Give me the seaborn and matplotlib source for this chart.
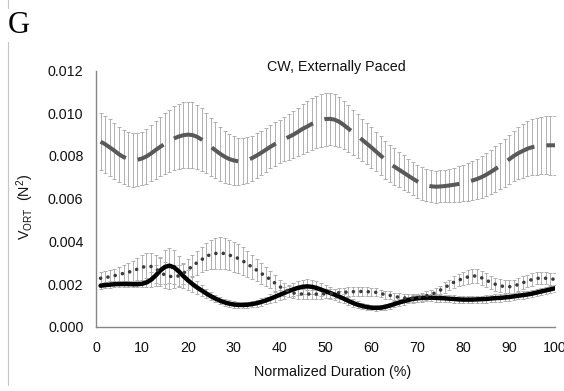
import matplotlib
matplotlib.use("Agg")
import matplotlib.pyplot as plt
from matplotlib.lines import Line2D
import numpy as np
import pandas as pd
import seaborn as sns

# Normalized duration (% of movement), one sample per percent
duration = list(range(1, 101))

# Long-dash series: mean and SD of V_ORT (N^2)
dash_mean = [
    0.00867, 0.00855, 0.00840, 0.00825, 0.00808, 0.00795, 0.00786, 0.00781, 0.00782, 0.00788,
    0.00798, 0.00812, 0.00828, 0.00843, 0.00857, 0.00870, 0.00882, 0.00891, 0.00897, 0.00900,
    0.00898, 0.00890, 0.00877, 0.00860, 0.00843, 0.00827, 0.00811, 0.00797, 0.00786, 0.00779,
    0.00775, 0.00776, 0.00781, 0.00790, 0.00802, 0.00815, 0.00829, 0.00843, 0.00856, 0.00868,
    0.00879, 0.00889, 0.00900, 0.00913, 0.00927, 0.00938, 0.00950, 0.00960, 0.00968, 0.00973,
    0.00974, 0.00970, 0.00960, 0.00945, 0.00928, 0.00911, 0.00894, 0.00876, 0.00858, 0.00840,
    0.00821, 0.00802, 0.00783, 0.00765, 0.00750, 0.00736, 0.00722, 0.00708, 0.00694, 0.00681,
    0.00670, 0.00662, 0.00658, 0.00656, 0.00657, 0.00659, 0.00662, 0.00665, 0.00669, 0.00674,
    0.00679, 0.00685, 0.00692, 0.00701, 0.00712, 0.00725, 0.00739, 0.00753, 0.00768, 0.00784,
    0.00800, 0.00813, 0.00824, 0.00834, 0.00841, 0.00846, 0.00849, 0.00850, 0.00850, 0.00850,
]
dash_sd = [
    0.00135, 0.00134, 0.00133, 0.00131, 0.00129, 0.00127, 0.00125, 0.00125, 0.00125, 0.00126,
    0.00128, 0.00131, 0.00135, 0.00139, 0.00143, 0.00147, 0.00150, 0.00153, 0.00155, 0.00155,
    0.00154, 0.00151, 0.00147, 0.00142, 0.00137, 0.00132, 0.00127, 0.00122, 0.00117, 0.00113,
    0.00110, 0.00108, 0.00106, 0.00105, 0.00104, 0.00103, 0.00102, 0.00101, 0.00101, 0.00102,
    0.00104, 0.00107, 0.00110, 0.00113, 0.00116, 0.00119, 0.00121, 0.00123, 0.00124, 0.00124,
    0.00123, 0.00121, 0.00118, 0.00114, 0.00110, 0.00106, 0.00102, 0.00099, 0.00097, 0.00095,
    0.00093, 0.00091, 0.00089, 0.00087, 0.00085, 0.00083, 0.00081, 0.00079, 0.00078, 0.00077,
    0.00076, 0.00075, 0.00075, 0.00075, 0.00075, 0.00076, 0.00078, 0.00080, 0.00083, 0.00086,
    0.00089, 0.00092, 0.00095, 0.00098, 0.00101, 0.00104, 0.00107, 0.00110, 0.00113, 0.00116,
    0.00119, 0.00122, 0.00125, 0.00128, 0.00131, 0.00133, 0.00135, 0.00136, 0.00137, 0.00137,
]

# Solid series
solid_mean = [
    0.00192, 0.00195, 0.00197, 0.00199, 0.00200, 0.00200, 0.00200, 0.00199, 0.00199, 0.00201,
    0.00207, 0.00220, 0.00240, 0.00263, 0.00280, 0.00286, 0.00278, 0.00260, 0.00238, 0.00218,
    0.00200, 0.00184, 0.00170, 0.00156, 0.00143, 0.00132, 0.00122, 0.00114, 0.00108, 0.00104,
    0.00102, 0.00102, 0.00103, 0.00106, 0.00110, 0.00116, 0.00123, 0.00131, 0.00140, 0.00149,
    0.00158, 0.00167, 0.00175, 0.00182, 0.00187, 0.00189, 0.00187, 0.00182, 0.00174, 0.00166,
    0.00158, 0.00150, 0.00141, 0.00131, 0.00121, 0.00111, 0.00103, 0.00097, 0.00092, 0.00089,
    0.00088, 0.00089, 0.00093, 0.00099, 0.00106, 0.00113, 0.00119, 0.00125, 0.00130, 0.00133,
    0.00135, 0.00136, 0.00136, 0.00135, 0.00134, 0.00133, 0.00131, 0.00130, 0.00128, 0.00127,
    0.00127, 0.00127, 0.00128, 0.00129, 0.00130, 0.00132, 0.00134, 0.00135, 0.00137, 0.00139,
    0.00142, 0.00145, 0.00148, 0.00151, 0.00155, 0.00160, 0.00165, 0.00170, 0.00175, 0.00180,
]
solid_sd = [
    0.00015, 0.00015, 0.00015, 0.00015, 0.00015, 0.00015, 0.00015, 0.00015, 0.00015, 0.00016,
    0.00020, 0.00035, 0.00050, 0.00065, 0.00078, 0.00083, 0.00080, 0.00070, 0.00058, 0.00047,
    0.00038, 0.00030, 0.00025, 0.00020, 0.00018, 0.00016, 0.00015, 0.00015, 0.00015, 0.00015,
    0.00015, 0.00015, 0.00015, 0.00015, 0.00016, 0.00017, 0.00018, 0.00020, 0.00022, 0.00024,
    0.00026, 0.00028, 0.00030, 0.00032, 0.00033, 0.00034, 0.00034, 0.00033, 0.00032, 0.00030,
    0.00028, 0.00026, 0.00024, 0.00022, 0.00020, 0.00018, 0.00016, 0.00015, 0.00014, 0.00013,
    0.00013, 0.00013, 0.00014, 0.00014, 0.00015, 0.00015, 0.00016, 0.00016, 0.00017, 0.00017,
    0.00017, 0.00017, 0.00017, 0.00017, 0.00017, 0.00017, 0.00017, 0.00017, 0.00017, 0.00017,
    0.00017, 0.00017, 0.00017, 0.00017, 0.00017, 0.00017, 0.00017, 0.00017, 0.00017, 0.00017,
    0.00017, 0.00017, 0.00017, 0.00017, 0.00017, 0.00017, 0.00017, 0.00017, 0.00017, 0.00017,
]

# Round-dot series
dot_mean = [
    0.00227, 0.00230, 0.00234, 0.00239, 0.00244, 0.00250, 0.00255, 0.00261, 0.00270, 0.00278,
    0.00283, 0.00282, 0.00272, 0.00256, 0.00242, 0.00236, 0.00234, 0.00238, 0.00250, 0.00266,
    0.00284, 0.00300, 0.00314, 0.00329, 0.00339, 0.00343, 0.00345, 0.00343, 0.00336, 0.00328,
    0.00320, 0.00308, 0.00294, 0.00279, 0.00265, 0.00250, 0.00236, 0.00221, 0.00204, 0.00188,
    0.00176, 0.00166, 0.00158, 0.00154, 0.00153, 0.00153, 0.00153, 0.00153, 0.00153, 0.00154,
    0.00155, 0.00157, 0.00159, 0.00161, 0.00163, 0.00164, 0.00165, 0.00165, 0.00164, 0.00163,
    0.00161, 0.00156, 0.00150, 0.00147, 0.00142, 0.00138, 0.00135, 0.00134, 0.00134, 0.00136,
    0.00140, 0.00145, 0.00151, 0.00160, 0.00171, 0.00184, 0.00196, 0.00209, 0.00218, 0.00226,
    0.00233, 0.00238, 0.00237, 0.00229, 0.00219, 0.00207, 0.00199, 0.00192, 0.00188, 0.00187,
    0.00190, 0.00198, 0.00206, 0.00214, 0.00221, 0.00226, 0.00228, 0.00227, 0.00224, 0.00222,
]
dot_sd = [
    0.00028, 0.00029, 0.00030, 0.00032, 0.00035, 0.00038, 0.00042, 0.00047, 0.00052, 0.00057,
    0.00062, 0.00065, 0.00066, 0.00065, 0.00062, 0.00058, 0.00055, 0.00052, 0.00050, 0.00050,
    0.00052, 0.00056, 0.00060, 0.00065, 0.00069, 0.00072, 0.00073, 0.00073, 0.00072, 0.00070,
    0.00067, 0.00064, 0.00060, 0.00056, 0.00052, 0.00048, 0.00044, 0.00040, 0.00036, 0.00033,
    0.00030, 0.00027, 0.00025, 0.00023, 0.00022, 0.00021, 0.00021, 0.00021, 0.00021, 0.00021,
    0.00021, 0.00021, 0.00021, 0.00021, 0.00021, 0.00021, 0.00021, 0.00021, 0.00021, 0.00020,
    0.00019, 0.00018, 0.00018, 0.00018, 0.00018, 0.00018, 0.00018, 0.00018, 0.00018, 0.00018,
    0.00019, 0.00020, 0.00020, 0.00021, 0.00022, 0.00024, 0.00025, 0.00027, 0.00028, 0.00030,
    0.00031, 0.00032, 0.00032, 0.00032, 0.00031, 0.00030, 0.00030, 0.00030, 0.00030, 0.00030,
    0.00030, 0.00030, 0.00030, 0.00030, 0.00029, 0.00028, 0.00028, 0.00028, 0.00028, 0.00028,
]

x_ticks = [0, 10, 20, 30, 40, 50, 60, 70, 80, 90, 100]
y_ticks = [0.000, 0.002, 0.004, 0.006, 0.008, 0.010, 0.012]
y_tick_labels = ["0.000", "0.002", "0.004", "0.006", "0.008", "0.010", "0.012"]

sns.set_theme(style="white")
plt.rcParams["font.family"] = ["Liberation Sans", "DejaVu Sans"]
plt.rcParams["mathtext.fontset"] = "custom"
plt.rcParams["mathtext.rm"] = "Liberation Sans"
plt.rcParams["mathtext.it"] = "Liberation Sans"

W, H = 564, 391
fig = plt.figure(figsize=(W / 100, H / 100), dpi=100)
fig.patch.set_facecolor("white")

# plot area in pixel coordinates
x0, x1, y_bot, y_top = 96, 555, 326.7, 70.6
ax = fig.add_axes([x0 / W, 1 - y_bot / H, (x1 - x0) / W, (y_bot - y_top) / H])
ax.set_facecolor("white")

df = pd.DataFrame({
    "duration": duration,
    "dash_mean": dash_mean, "dash_sd": dash_sd,
    "solid_mean": solid_mean, "solid_sd": solid_sd,
    "dot_mean": dot_mean, "dot_sd": dot_sd,
})

bar_kw = dict(fmt="none", ecolor="#b0b0b0", elinewidth=0.7, capsize=1.5,
              capthick=0.7, zorder=1)
for key in ["dash", "dot", "solid"]:
    ax.errorbar(df["duration"], df[f"{key}_mean"], yerr=df[f"{key}_sd"], **bar_kw)

sns.lineplot(data=df, x="duration", y="dash_mean", ax=ax, color="#595959",
             lw=2.9, linestyle=(0, (7.5, 3.0)), dash_capstyle="butt", zorder=3)
sns.lineplot(data=df, x="duration", y="solid_mean", ax=ax, color="#000000",
             lw=3.2, solid_capstyle="round", zorder=4)
sns.lineplot(data=df, x="duration", y="dot_mean", ax=ax, color="#3a3a3a",
             lw=2.6, linestyle=(0, (0.01, 2.05)), dash_capstyle="round", zorder=5)

ax.set_xlim(0, 100)
ax.set_ylim(0, 0.012)
ax.set_xticks(x_ticks)
ax.set_xticklabels([str(t) for t in x_ticks])
ax.set_yticks(y_ticks)
ax.set_yticklabels(y_tick_labels)

for side in ["top", "right"]:
    ax.spines[side].set_visible(False)
for side in ["left", "bottom"]:
    ax.spines[side].set_color("#868686")
    ax.spines[side].set_linewidth(1.0)
ax.tick_params(axis="both", which="major", direction="out", color="#868686",
               width=1.0, labelsize=10.3, labelcolor="#111111")
ax.tick_params(axis="x", length=3, pad=7)
ax.tick_params(axis="y", length=4, pad=5)
ax.grid(False)

ax.set_xlabel("Normalized Duration (%)", fontsize=10.3, color="#111111", va="center")
ax.xaxis.set_label_coords((332.5 - x0) / (x1 - x0), (y_bot - 372) / (y_bot - y_top))
ax.set_ylabel(r"V$_{\mathregular{ORT}}$  (N$^{\mathregular{2}}$)", fontsize=10.3,
              color="#111111", va="center")
ax.yaxis.set_label_coords((25.7 - x0) / (x1 - x0), (y_bot - 207) / (y_bot - y_top))

ax.text((336 - x0) / (x1 - x0), (y_bot - 71) / (y_bot - y_top), "CW, Externally Paced",
        transform=ax.transAxes, ha="center", va="baseline", fontsize=10.3, color="#111111")

# panel letter over a thin left rule
fig.add_artist(Line2D([8 / W, 8 / W], [1 - 385 / H, 1.0], transform=fig.transFigure,
                      color="#c4c4c4", lw=0.8))
fig.text(8 / W, 1 - 33 / H, "G", family=["Liberation Serif", "DejaVu Serif"],
         fontsize=22, color="#000000", ha="left", va="baseline",
         bbox=dict(facecolor="white", edgecolor="none", pad=1.5))

fig.savefig("out.png", dpi=100, facecolor="white")
